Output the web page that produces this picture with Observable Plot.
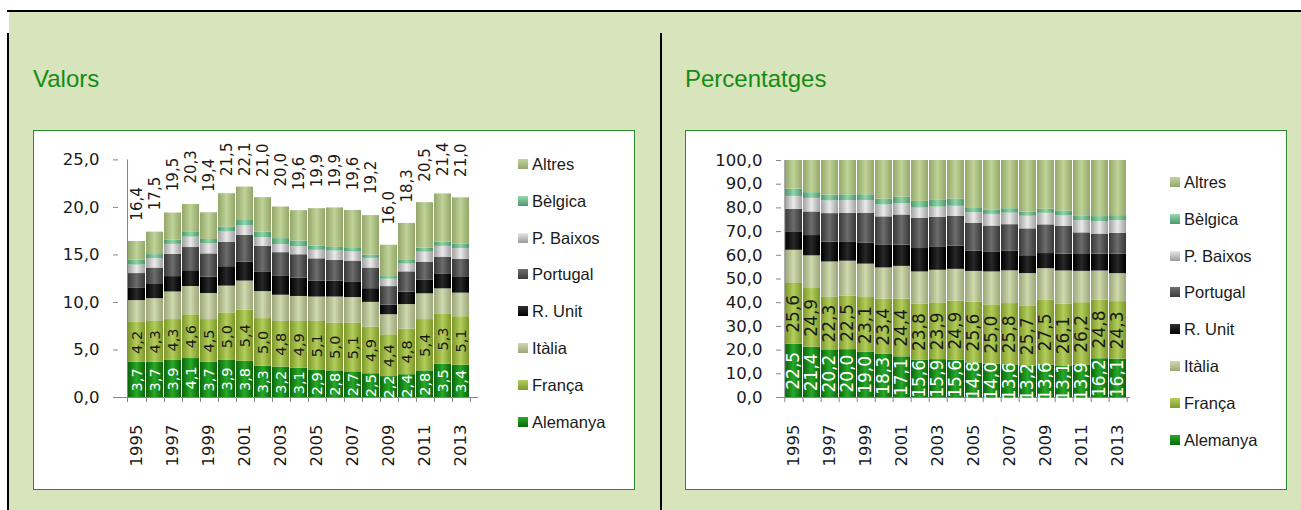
<!DOCTYPE html>
<html>
<head>
<meta charset="utf-8">
<script src="https://cdn.jsdelivr.net/npm/d3@7"></script>
<script src="https://cdn.jsdelivr.net/npm/@observablehq/plot@0.6"></script>
<style>
html, body { margin: 0; padding: 0; background: #ffffff; }
#root { position: relative; width: 1301px; height: 510px; overflow: hidden; font-family: "DejaVu Sans", sans-serif; }
.bg { position: absolute; left: 9px; top: 12px; width: 1292px; height: 498px; background: #d8e4bc; }
.hline { position: absolute; left: 7px; top: 10px; width: 1294px; height: 2px; background: #000; }
.vline { position: absolute; top: 33px; width: 2px; height: 477px; background: #000; }
.title { position: absolute; top: 67px; font-family: "Liberation Sans", Arial, sans-serif; font-size: 24px; line-height: 24px; color: #148c14; }
.box { position: absolute; top: 130px; width: 600px; height: 358px; border: 1px solid #2a8c2a; background: #fff; }
.box svg { position: absolute; left: 0; top: 0; }
.lg-sq { position: absolute; left: 484px; width: 10px; height: 10px; }
.lg-tx { position: absolute; left: 498px; font-family: "Liberation Sans", Arial, sans-serif; font-size: 16.5px; line-height: 20px; color: #1a1a1a; white-space: nowrap; }
</style>
</head>
<body>
<div id="root">
  <div class="bg"></div>
  <div class="hline"></div>
  <div class="vline" style="left:7px"></div>
  <div class="vline" style="left:660px"></div>
  <div class="title" style="left:33px">Valors</div>
  <div class="title" style="left:685px">Percentatges</div>
  <div class="box" id="box1" style="left:33px"></div>
  <div class="box" id="box2" style="left:685px"></div>
  <svg width="0" height="0" style="position:absolute;left:0;top:0">
    <defs>
      <linearGradient id="gAlemanya" x1="0" x2="1" y1="0" y2="0">
        <stop offset="0" stop-color="#0a640a"/><stop offset="0.5" stop-color="#28aa28"/><stop offset="1" stop-color="#0a640a"/>
      </linearGradient>
      <linearGradient id="gFranca" x1="0" x2="1" y1="0" y2="0">
        <stop offset="0" stop-color="#7c982a"/><stop offset="0.5" stop-color="#b2cd5a"/><stop offset="1" stop-color="#7c982a"/>
      </linearGradient>
      <linearGradient id="gItalia" x1="0" x2="1" y1="0" y2="0">
        <stop offset="0" stop-color="#9ca679"/><stop offset="0.5" stop-color="#cfd8ae"/><stop offset="1" stop-color="#9ca679"/>
      </linearGradient>
      <linearGradient id="gRUnit" x1="0" x2="1" y1="0" y2="0">
        <stop offset="0" stop-color="#000000"/><stop offset="0.5" stop-color="#282828"/><stop offset="1" stop-color="#000000"/>
      </linearGradient>
      <linearGradient id="gPortugal" x1="0" x2="1" y1="0" y2="0">
        <stop offset="0" stop-color="#383838"/><stop offset="0.5" stop-color="#6c6c6c"/><stop offset="1" stop-color="#383838"/>
      </linearGradient>
      <linearGradient id="gPBaixos" x1="0" x2="1" y1="0" y2="0">
        <stop offset="0" stop-color="#a0a0a0"/><stop offset="0.5" stop-color="#eaeaea"/><stop offset="1" stop-color="#a0a0a0"/>
      </linearGradient>
      <linearGradient id="gBelgica" x1="0" x2="1" y1="0" y2="0">
        <stop offset="0" stop-color="#4a986a"/><stop offset="0.5" stop-color="#92d4aa"/><stop offset="1" stop-color="#4a986a"/>
      </linearGradient>
      <linearGradient id="gAltres" x1="0" x2="1" y1="0" y2="0">
        <stop offset="0" stop-color="#93a76b"/><stop offset="0.5" stop-color="#bfd297"/><stop offset="1" stop-color="#93a76b"/>
      </linearGradient>
    </defs>
  </svg>
</div>
<script>
// ---- data ----
const years = [1995,1996,1997,1998,1999,2000,2001,2002,2003,2004,2005,2006,2007,2008,2009,2010,2011,2012,2013];
const seriesNames = ["Alemanya","França","Itàlia","R. Unit","Portugal","P. Baixos","Bèlgica","Altres"];
const alemanya = [3.7,3.7,3.9,4.1,3.7,3.9,3.8,3.3,3.2,3.1,2.9,2.8,2.7,2.5,2.2,2.4,2.8,3.5,3.4];
const franca   = [4.2,4.3,4.3,4.6,4.5,5.0,5.4,5.0,4.8,4.9,5.1,5.0,5.1,4.9,4.4,4.8,5.4,5.3,5.1];
const italia   = [2.30,2.40,2.90,2.98,2.74,2.82,3.05,2.84,2.76,2.63,2.57,2.77,2.72,2.61,2.11,2.58,2.71,2.63,2.48];
const rUnit    = [1.28,1.49,1.62,1.66,1.71,2.04,1.99,2.08,1.98,1.94,1.69,1.69,1.65,1.44,1.02,1.30,1.46,1.52,1.72];
const portugal = [1.56,1.73,2.34,2.44,2.46,2.58,2.81,2.69,2.50,2.45,2.33,2.17,2.18,2.17,1.94,2.14,1.87,1.82,1.85];
const pBaixos  = [0.89,1.00,1.05,1.10,1.05,1.08,1.04,0.90,0.86,0.84,0.90,0.98,0.96,1.02,0.78,0.82,1.05,1.13,1.13];
const belgica  = [0.51,0.42,0.47,0.49,0.47,0.52,0.62,0.59,0.62,0.61,0.42,0.38,0.37,0.35,0.27,0.38,0.43,0.45,0.44];
const altres   = [1.98,2.36,2.83,2.94,2.81,3.50,3.43,3.63,3.32,3.19,3.96,4.16,4.00,4.15,3.30,3.90,4.78,5.07,4.89];
const totals   = [16.4,17.5,19.5,20.3,19.4,21.5,22.1,21.0,20.0,19.6,19.9,19.9,19.6,19.2,16.0,18.3,20.5,21.4,21.0];
const pctAlemanya = [22.5,21.4,20.2,20.0,19.0,18.3,17.1,15.6,15.9,15.6,14.8,14.0,13.6,13.2,13.6,13.1,13.9,16.2,16.1];
const pctFranca   = [25.6,24.9,22.3,22.5,23.1,23.4,24.4,23.8,23.9,24.9,25.6,25.0,25.8,25.7,27.5,26.1,26.2,24.8,24.3];
const valueTicks = [0,5,10,15,20,25];
const pctTicks = [0,10,20,30,40,50,60,70,80,90,100];
const yearTicks = [1995,1997,1999,2001,2003,2005,2007,2009,2011,2013];

const seriesValues = [alemanya, franca, italia, rUnit, portugal, pBaixos, belgica, altres];
const gradIds = ["gAlemanya","gFranca","gItalia","gRUnit","gPortugal","gPBaixos","gBelgica","gAltres"];
const legendColors = [["#2aa82a","#0b6a0b"],["#b4cf5c","#7f9a2e"],["#d0d8b0","#9da87a"],["#303030","#000000"],["#707070","#3a3a3a"],["#e8e8e8","#9a9a9a"],["#98d8b0","#4a9868"],["#c2d49a","#93a76c"]];

const long = [];
seriesNames.forEach((s, k) => years.forEach((yr, i) => long.push({year: yr, series: s, value: seriesValues[k][i], i})));

const fmt = v => d3.format(".1f")(v).replace(".", ",");
const W = 600, H = 358;
const axisGray = "#868686";
const textCol = "#1a1a1a";

function legend(boxId, top0) {
  const box = document.getElementById(boxId);
  const order = seriesNames.map((s, k) => k).reverse();
  order.forEach((k, row) => {
    const c = top0 + row * 36.8;
    const sq = document.createElement("div");
    sq.className = "lg-sq";
    sq.style.top = (c - 5) + "px";
    sq.style.background = `linear-gradient(to bottom, ${legendColors[k][0]}, ${legendColors[k][1]})`;
    box.appendChild(sq);
    const tx = document.createElement("div");
    tx.className = "lg-tx";
    tx.style.top = (c - 10) + "px";
    tx.textContent = seriesNames[k];
    box.appendChild(tx);
  });
}

function chart({ml, mr, mt, mb, normalize, labelSize}) {
  const step = (W - ml - mr) / years.length;
  const stackOpts = {order: seriesNames, ...(normalize ? {offset: "normalize"} : {})};
  const yMax = normalize ? 1 : 25;
  const ticks = normalize ? pctTicks.map(t => t / 100) : valueTicks;
  const tickFmt = normalize ? (d => fmt(d * 100)) : fmt;
  const marks = [
    Plot.barY(long, Plot.stackY(stackOpts, {x: "year", y: "value", z: "series", fill: "series"})),
    Plot.ruleY([0], {stroke: axisGray}),
    Plot.ruleX([years[0]], {x: d => d, dx: -step / 2, y1: 0, y2: yMax, stroke: axisGray}),
    Plot.ruleX(years, {x: d => d, dx: step / 2, y1: 0, y2: 0, insetBottom: -5, stroke: axisGray}),
    Plot.ruleX([years[0]], {x: d => d, dx: -step / 2, y1: 0, y2: 0, insetBottom: -5, stroke: axisGray}),
    Plot.axisY({ticks, tickFormat: tickFmt, tickSize: 5, tickPadding: 14, stroke: axisGray, fill: textCol, fontSize: 16.5, label: null}),
    Plot.axisX({ticks: yearTicks, tickFormat: d => String(d), tickRotate: -90, tickSize: 0, tickPadding: 27, fill: textCol, fontSize: 16.5, label: null}),
    Plot.text(long, Plot.stackY(stackOpts, {
      x: "year", y: "value", z: "series",
      text: d => d.series === "Alemanya" ? fmt(normalize ? pctAlemanya[d.i] : d.value) : null,
      rotate: -90, fill: "#ffffff", fontSize: labelSize
    })),
    Plot.text(long, Plot.stackY(stackOpts, {
      x: "year", y: "value", z: "series",
      text: d => d.series === "França" ? fmt(normalize ? pctFranca[d.i] : d.value) : null,
      rotate: -90, fill: textCol, fontSize: labelSize
    }))
  ];
  if (!normalize) {
    marks.push(Plot.text(years, {
      x: d => d, y: (d, i) => Math.min(totals[i], 21.1), dy: -21,
      text: (d, i) => fmt(totals[i]), rotate: -90, textAnchor: "start", fill: textCol, fontSize: 15
    }));
  }
  return Plot.plot({
    width: W, height: H,
    marginLeft: ml, marginRight: mr, marginTop: mt, marginBottom: mb,
    style: {fontFamily: "DejaVu Sans, sans-serif", fontSize: "16.5px", color: textCol, background: "transparent", overflow: "visible"},
    x: {type: "band", domain: years, paddingInner: 0.06, paddingOuter: 0.03, axis: null, label: null},
    y: {domain: [0, yMax], axis: null, label: null},
    color: {domain: seriesNames, range: gradIds.map(id => `url(#${id})`)},
    marks
  });
}

document.getElementById("box1").appendChild(chart({ml: 84, mr: 156, mt: 28.4, mb: 92, normalize: false, labelSize: 14.5}));
document.getElementById("box2").appendChild(chart({ml: 95, mr: 156, mt: 29, mb: 92, normalize: true, labelSize: 17}));
legend("box1", 33);
legend("box2", 51);
</script>
</body>
</html>
